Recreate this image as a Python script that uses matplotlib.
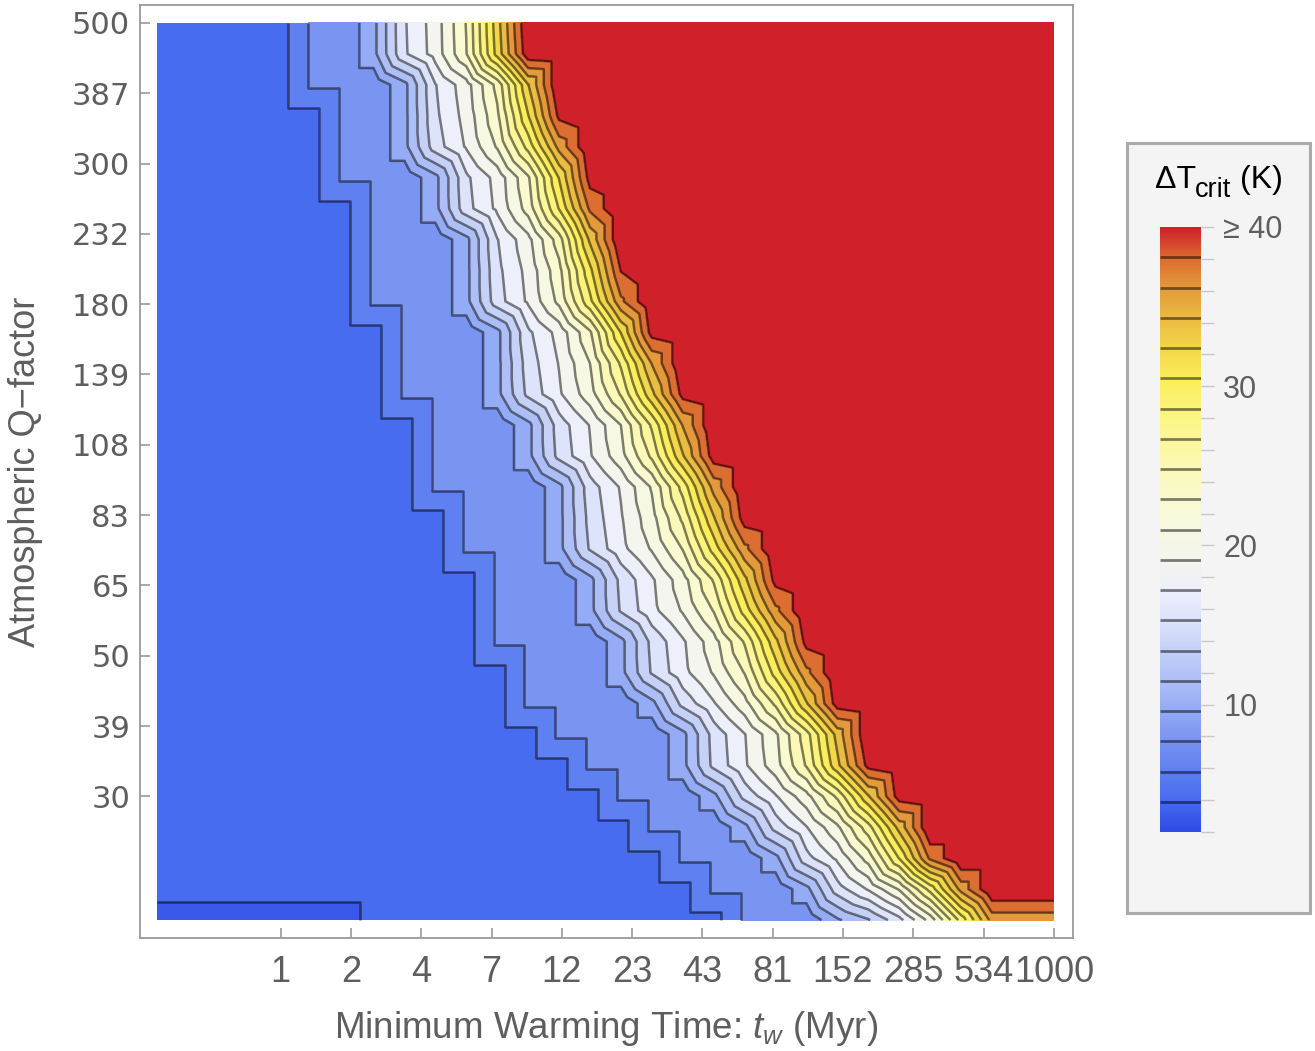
import numpy as np
import matplotlib
matplotlib.use('Agg')
import matplotlib.pyplot as plt
import matplotlib.tri as mtri
from matplotlib.colors import LinearSegmentedColormap
from matplotlib.patches import Rectangle

plt.rcParams['font.family'] = ['Liberation Sans', 'DejaVu Sans']
plt.rcParams['mathtext.fontset'] = 'custom'
plt.rcParams['mathtext.rm'] = 'Liberation Sans'
plt.rcParams['mathtext.it'] = 'Liberation Sans:italic'

# axis tick labels (log spaced grid, 30 x 30 samples)
tw_labels = ['1', '2', '4', '7', '12', '23', '43', '81', '152', '285', '534', '1000']
q_labels = ['30', '39', '50', '65', '83', '108', '139', '180', '232', '300', '387', '500']

# contour levels of Delta T_crit (K)
levels = [2.0, 3.9, 5.8, 7.7, 9.6, 11.5, 13.4, 15.3, 17.2, 19.1, 21.0,
          22.9, 24.8, 26.7, 28.6, 30.5, 32.4, 34.3, 36.2, 38.1]

# colour ramp (TemperatureMap-like), value -> colour
cbar_stops = [2.0, 3.9, 5.8, 7.7, 9.6, 11.5, 13.4, 15.3, 17.2, 19.1, 21.0,
              22.9, 24.8, 26.7, 28.6, 30.5, 32.4, 34.3, 36.2, 38.1, 40.0]
cbar_colors = ['#2f4ce7', '#486cef', '#5e80f0', '#7a94f2', '#94abf5', '#aebef7',
               '#c6d1f8', '#dde3fa', '#edf0fb', '#f4f5ee', '#f7f8e2', '#fafad0',
               '#fcf9b8', '#fdf79c', '#fcf47a', '#fbee5a', '#f3d74b', '#ebbc42',
               '#e49a3a', '#dc6e31', '#d0202a']
strip_color = '#3a58e9'

# Delta T_crit on the grid, rows from lowest Q (row 0) to highest Q (row 29)
dT = [
    [0.4]*7 + [3.17]*12 + [6.15]*3 + [9.3, 11.3, 14.6, 19.8, 27.4, 35.0, 35.0, 35.0],
    [3.17]*18 + [6.15]*3 + [9.0, 14.4, 17.4, 21.2, 27.4, 35.0, 40, 40, 40],
    [3.17]*17 + [6.15]*3 + [9.0, 14.6, 17.6, 21.8, 28.7, 36.6, 40, 40, 40, 40],
    [3.17]*16 + [6.15]*3 + [9.0, 14.1, 17.1, 20.6, 25.9, 33.1, 40, 40, 40, 40, 40],
    [3.17]*15 + [6.15]*3 + [9.0, 14.0, 17.0, 20.3, 25.2, 32.2, 39.1] + [40]*5,
    [3.17]*14 + [6.15]*3 + [9.0, 13.9, 16.9, 20.2, 25.0, 31.9, 38.8] + [40]*6,
    [3.17]*13 + [6.15]*4 + [9.0, 14.1, 17.1, 20.6, 25.9, 33.1, 40] + [40]*6,
    [3.17]*12 + [6.15]*4 + [9.0, 14.0, 17.0, 20.3, 25.2, 32.2, 39.1] + [40]*7,
    [3.17]*12 + [6.15]*3 + [9.0, 13.6, 16.6, 19.3, 23.0, 29.4, 35.7, 40] + [40]*7,
    [3.17]*11 + [6.15]*4 + [9.0, 13.9, 16.9, 20.2, 25.0, 31.9, 38.8] + [40]*8,
    [3.17]*11 + [6.15]*3 + [9.0, 13.6, 16.6, 19.3, 23.0, 29.4, 35.7, 40] + [40]*8,
    [3.17]*11 + [6.15]*3 + [9.0, 13.9, 16.9, 20.2, 25.0, 31.9, 38.8] + [40]*9,
    [3.17]*10 + [6.15]*3 + [9.0, 13.6, 16.6, 19.3, 23.0, 29.4, 35.7, 40] + [40]*9,
    [3.17]*10 + [6.15]*3 + [9.0, 14.0, 17.0, 20.3, 25.2, 32.2, 39.1] + [40]*10,
    [3.17]*9 + [6.15]*4 + [9.0, 14.4, 17.4, 21.2, 27.4, 35.0, 40] + [40]*10,
    [3.17]*9 + [6.15]*3 + [9.0, 14.0, 17.0, 20.3, 25.2, 32.2, 39.1] + [40]*11,
    [3.17]*9 + [6.15]*3 + [9.0, 14.3, 17.3, 21.0, 27.0, 34.4, 40] + [40]*11,
    [3.17]*8 + [6.15]*3 + [9.0, 13.9, 16.9, 20.2, 25.0, 31.9, 38.8] + [40]*12,
    [3.17]*8 + [6.15]*3 + [9.0, 14.3, 17.3, 21.0, 27.0, 34.4, 40] + [40]*12,
    [3.17]*8 + [6.15]*3 + [9.0, 14.9, 17.9, 22.6, 30.6, 38.9] + [40]*13,
    [3.17]*7 + [6.15]*3 + [9.0, 14.5, 17.5, 21.5, 28.1, 35.8, 40] + [40]*13,
    [3.17]*7 + [6.15]*3 + [9.0, 14.8, 17.8, 22.3, 30.0, 38.2] + [40]*14,
    [3.17]*7 + [6.15]*3 + [9.0, 15.2, 18.5, 23.9, 32.8, 40] + [40]*14,
    [3.17]*7 + [6.15]*2 + [9.0, 14.6, 17.6, 21.8, 28.7, 36.6, 40] + [40]*14,
    [3.17]*6 + [6.15]*3 + [9.0, 14.9, 17.9, 22.6, 30.6, 38.9] + [40]*15,
    [3.17]*6 + [6.15]*2 + [9.0, 14.4, 17.4, 21.2, 27.4, 35.0, 40] + [40]*15,
    [3.17]*6 + [6.15]*2 + [9.0, 14.9, 17.9, 22.5, 30.4, 38.6] + [40]*16,
    [3.17]*5 + [6.15]*3 + [9.0, 15.2, 18.3, 23.5, 32.3, 40] + [40]*16,
    [3.17]*5 + [6.15]*2 + [9.0, 15.0, 18.0, 22.8, 31.2, 39.5] + [40]*17,
    [3.17]*5 + [6.15]*2 + [9.0, 15.1, 18.1, 23.0, 31.6, 40] + [40]*17,
]

W, H = 1315, 1051
grey = '#5e5e5e'

if __name__ == "__main__":
    Z = np.array(dT)
    ny, nx = Z.shape
    xx, yy = np.meshgrid(np.arange(nx), np.arange(ny))

    # split every grid cell along its SW-NE diagonal (like Mathematica does)
    tris = []
    for j in range(ny-1):
        for i in range(nx-1):
            p = j*nx + i
            tris.append([p, p+1, p+nx+1])
            tris.append([p, p+nx+1, p+nx])
    tri = mtri.Triangulation(xx.ravel(), yy.ravel(), np.array(tris))

    fig = plt.figure(figsize=(W/100., H/100.), dpi=100)
    ax = fig.add_axes([140./W, 1-938./H, (1073-140.)/W, (938-5.)/H])

    fill_levels = [-10] + levels + [50]
    fill_colors = [strip_color] + cbar_colors[1:]
    ax.tricontourf(tri, Z.ravel(), levels=fill_levels, colors=fill_colors)
    ax.tricontour(tri, Z.ravel(), levels=levels, colors='k', alpha=0.5, linewidths=1.8)

    ax.set_xlim(-0.55, 29.62)
    ax.set_ylim(-0.58, 29.58)
    tpos = np.linspace(4, 29, 12)
    ax.set_xticks(tpos)
    ax.set_xticklabels(tw_labels, fontsize=26, color=grey)
    ax.set_yticks(tpos)
    ax.set_yticklabels(q_labels, fontsize=22, color=grey, family='DejaVu Sans')
    ax.tick_params(direction='in', length=7, width=1.2, color='#9a9a9a',
                   top=False, right=False)
    ax.tick_params(axis='x', pad=12)
    ax.tick_params(axis='y', pad=7)
    for s in ax.spines.values():
        s.set_color('#9a9a9a')
        s.set_linewidth(1.3)

    fig.text(606./W, 1-1028./H, 'Minimum Warming Time: $t_w$ (Myr)',
             fontsize=26.5, color=grey, ha='center', va='center')
    fig.text(26./W, 1-472./H, 'Atmospheric Q\u2212factor', rotation=90,
             fontsize=26, color=grey, ha='center', va='center')

    # legend panel
    fig.patches.append(Rectangle((1127./W, 1-913./H), (1310-1127.)/W, (913-143.)/H,
                                 transform=fig.transFigure, facecolor='#f4f4f4',
                                 edgecolor='#aaaaaa', linewidth=2.2, zorder=-1))
    # title: Delta T_crit (K), subscript drawn a bit larger than mathtext would
    fig.text(1155./W, 1-188./H, '\u0394T', fontsize=23, color='k',
             ha='left', va='baseline')
    fig.text(1195./W, 1-197./H, 'crit', fontsize=19.5, color='k',
             ha='left', va='baseline')
    fig.text(1240./W, 1-188./H, '(K)', fontsize=23, color='k',
             ha='left', va='baseline')

    cmap = LinearSegmentedColormap.from_list(
        'tmap', list(zip((np.array(cbar_stops)-2.)/38., cbar_colors)))
    cax = fig.add_axes([1160./W, 1-832./H, 41./W, (832-227.)/H])
    grad = np.linspace(2, 40, 500).reshape(-1, 1)
    cax.imshow(grad, aspect='auto', origin='lower', extent=[0, 1, 2, 40],
               cmap=cmap, vmin=2, vmax=40)
    cax.hlines(levels[1:], 0, 1, colors='k', alpha=0.5, linewidth=2)
    cax.set_xlim(0, 1)
    cax.set_ylim(2, 40)
    cax.set_xticks([])
    cax.yaxis.tick_right()
    cbt = np.arange(2, 41, 2)
    cax.set_yticks(cbt)
    cax.set_yticklabels(['\u2265 40' if t == 40 else (str(t) if t % 10 == 0 else '')
                         for t in cbt], fontsize=22, color=grey)
    cax.tick_params(axis='y', length=9, width=1, color='#c8c8c8', pad=7)
    for s in cax.spines.values():
        s.set_visible(False)

    fig.savefig('out.png', dpi=100)
